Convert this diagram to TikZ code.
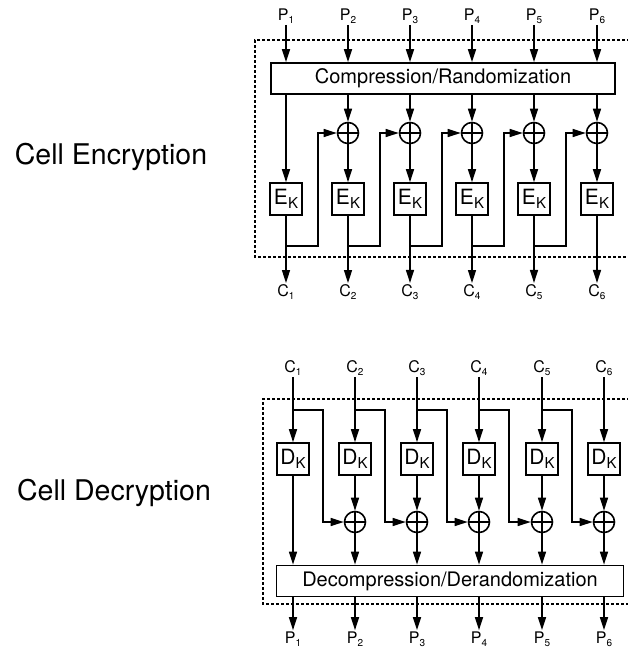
\documentclass[tikz,border=0pt]{standalone}
\usepackage{fontspec}
\setmainfont{TeX Gyre Heros}
\usetikzlibrary{arrows.meta,calc}
\newcommand{\sublab}[2]{{\fontsize{16}{16}\selectfont #1\raisebox{-2.5pt}{\fontsize{10}{10}\selectfont #2}}}
\newcommand{\keybox}[1]{{\fontsize{21}{21}\selectfont #1\raisebox{-4pt}{\fontsize{15}{15}\selectfont K}}}
\begin{document}
\begin{tikzpicture}[x=1pt,y=-1pt,
  line width=1.5pt,
  arr/.style={-{Triangle[length=13pt,width=8pt]}},
  lab/.style={inner sep=1pt},
  bigbox/.style={draw,line width=1.7pt,minimum height=31pt,inner sep=0pt,font=\fontsize{20}{20}\selectfont},
  kbox/.style={draw,line width=1.6pt,minimum width=32pt,minimum height=32pt,inner sep=0pt},
  xorn/.style={circle,draw,line width=1.6pt,minimum size=21pt,inner sep=0pt,
    path picture={\draw[line width=1.4pt] (path picture bounding box.north) -- (path picture bounding box.south)
      (path picture bounding box.west) -- (path picture bounding box.east);}},
  dotb/.style={line width=1.8pt,dash pattern=on 3pt off 2pt},
  side/.style={font=\fontsize{28.5}{28.5}\selectfont}]
\useasboundingbox[fill=white] (0,0) rectangle (628,649);

% ---------- side labels
\node[side] (tenc) at (111,157) {Cell Encryption};
\node[side] (tdec) at (114,493) {Cell Decryption};

% ---------- dotted frames
\draw[dotb] (640,40) -- (255,40) -- (255,257) -- (640,257);
\draw[dotb] (640,399) -- (263,399) -- (263,604) -- (640,604);

% ---------- encryption
\node[bigbox,minimum width=344pt] (comp) at (443,78.5) {Compression/Randomization};
\foreach \i/\x in {1/286,2/348,3/410,4/472,5/534,6/597}{
  \node[lab] (p\i) at (\x,16) {\sublab{P}{\i}};
  \node[kbox] (e\i) at (\x,199) {\keybox{E}};
  \node[lab] (c\i) at (\x,292) {\sublab{C}{\i}};
  \draw[arr] (p\i.south) -- (p\i.south |- comp.north);
  \draw[arr] (e\i.south) -- (c\i.north);
  \coordinate (b\i) at (\x,246);
}
\foreach \i/\x in {2/348,3/410,4/472,5/534,6/597}{
  \node[xorn] (x\i) at (\x,133) {};
  \draw[arr] (comp.south -| x\i) -- (x\i.north);
  \draw[arr] (x\i.south) -- (e\i.north);
}
\draw[arr] (comp.south -| e1) -- (e1.north);
\foreach \j/\i/\f in {1/2/318,2/3/380,3/4/442,4/5/504,5/6/566}{
  \coordinate (f\j) at (\f,133);
  \draw[arr] (b\j) -| (f\j) -- (x\i.west);
}

% ---------- decryption
\node[bigbox,minimum width=347pt] (decomp) at (450,581) {Decompression/Derandomization};
\foreach \i/\x in {1/293,2/355,3/417,4/479,5/542,6/604}{
  \node[lab] (cc\i) at (\x,368) {\sublab{C}{\i}};
  \node[kbox] (d\i) at (\x,459) {\keybox{D}};
  \node[lab] (pp\i) at (\x,639) {\sublab{P}{\i}};
  \draw[arr] (cc\i.south) -- (d\i.north);
  \draw[arr] (decomp.south -| d\i) -- (pp\i.north);
  \coordinate (g\i) at (\x,410);
}
\draw[arr] (d1.south) -- (decomp.north -| d1);
\foreach \i/\x in {2/355,3/417,4/479,5/542,6/604}{
  \node[xorn] (y\i) at (\x,522) {};
  \draw[arr] (d\i.south) -- (y\i.north);
  \draw[arr] (y\i.south) -- (decomp.north -| y\i);
}
\foreach \j/\i/\f in {1/2/323,2/3/385,3/4/447,4/5/509,5/6/572}{
  \coordinate (h\j) at (\f,522);
  \draw[arr] (g\j) -| (h\j) -- (y\i.west);
}
\end{tikzpicture}
\end{document}
